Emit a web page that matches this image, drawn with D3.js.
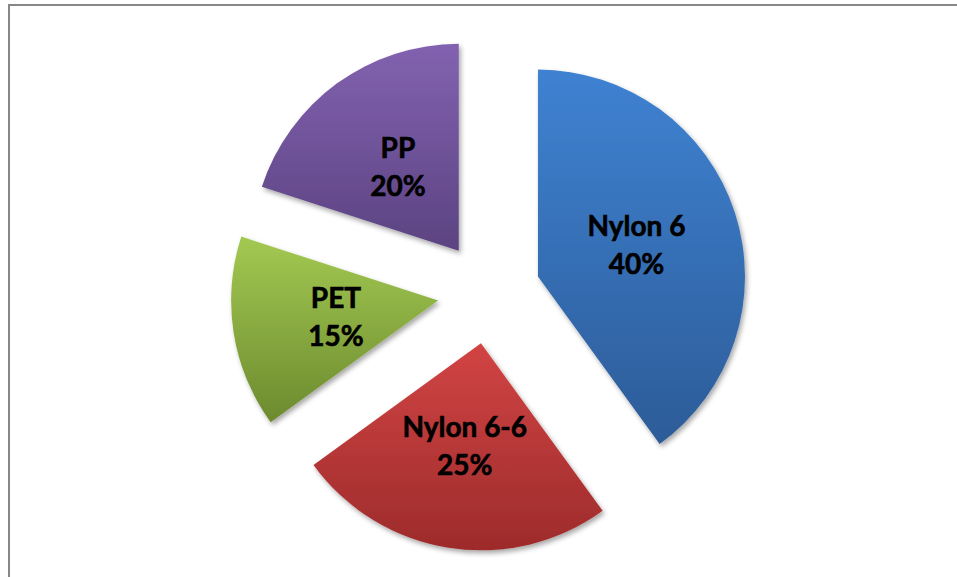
<!DOCTYPE html>
<html>
<head>
<meta charset="utf-8">
<script src="https://cdn.jsdelivr.net/npm/d3@7"></script>
<style>
  html, body { margin: 0; padding: 0; background: #fff; }
  svg { display: block; }
</style>
</head>
<body>
<script>
const categories = ["Nylon 6", "Nylon 6-6", "PET", "PP"];
const values = [40, 25, 15, 20];
const percentLabels = ["40%", "25%", "15%", "20%"];

const topColors = ["#3f82d2", "#d24444", "#a3c952", "#8262b0"];
const bottomColors = ["#2c5c98", "#9d2b2b", "#6c8a2e", "#5b4381"];

const W = 957, H = 577;
const cx = 489, cy = 292.5, R = 207, explode = 51.5;

const svg = d3.select("body").append("svg").attr("width", W).attr("height", H);
const defs = svg.append("defs");

const shadow = defs.append("filter").attr("id", "shadow")
  .attr("x", "-20%").attr("y", "-20%").attr("width", "140%").attr("height", "140%");
shadow.append("feDropShadow").attr("dx", 2).attr("dy", 3).attr("stdDeviation", 2.5)
  .attr("flood-color", "#000").attr("flood-opacity", 0.35);

categories.forEach((c, i) => {
  const g = defs.append("linearGradient").attr("id", "grad" + i)
    .attr("x1", 0).attr("y1", 0).attr("x2", 0).attr("y2", 1);
  g.append("stop").attr("offset", "0%").attr("stop-color", topColors[i]);
  g.append("stop").attr("offset", "100%").attr("stop-color", bottomColors[i]);
});

// chart border
svg.append("rect").attr("x", 9).attr("y", 5).attr("width", 1000).attr("height", 1000)
  .attr("fill", "#fff").attr("stroke", "#878787").attr("stroke-width", 2);

const data = categories.map((c, i) => ({ name: c, value: values[i], pct: percentLabels[i], i }));
const pie = d3.pie().sort(null).value(d => d.value).startAngle(0).endAngle(2 * Math.PI);
const arcs = pie(data);
const arc = d3.arc().innerRadius(0).outerRadius(R);

const slices = svg.append("g").selectAll("g.slice").data(arcs).join("g")
  .attr("class", "slice")
  .attr("transform", d => {
    const mid = (d.startAngle + d.endAngle) / 2;
    return `translate(${cx + explode * Math.sin(mid)},${cy - explode * Math.cos(mid)})`;
  });

slices.append("path")
  .attr("d", arc)
  .attr("fill", d => `url(#grad${d.data.i})`)
  .attr("filter", "url(#shadow)");

const labels = slices.append("text")
  .attr("transform", d => { const c = arc.centroid(d); return `translate(${c[0]},${c[1]})`; })
  .attr("text-anchor", "middle")
  .attr("font-family", "Lato, 'Open Sans', sans-serif")
  .attr("font-weight", "bold")
  .attr("font-size", 28)
  .attr("fill", "#000")
  .attr("stroke", "#000")
  .attr("stroke-width", 0.6);
labels.append("tspan").attr("x", 0).attr("y", -9).text(d => d.data.name);
labels.append("tspan").attr("x", 0).attr("y", 29).text(d => d.data.pct);
</script>
</body>
</html>
